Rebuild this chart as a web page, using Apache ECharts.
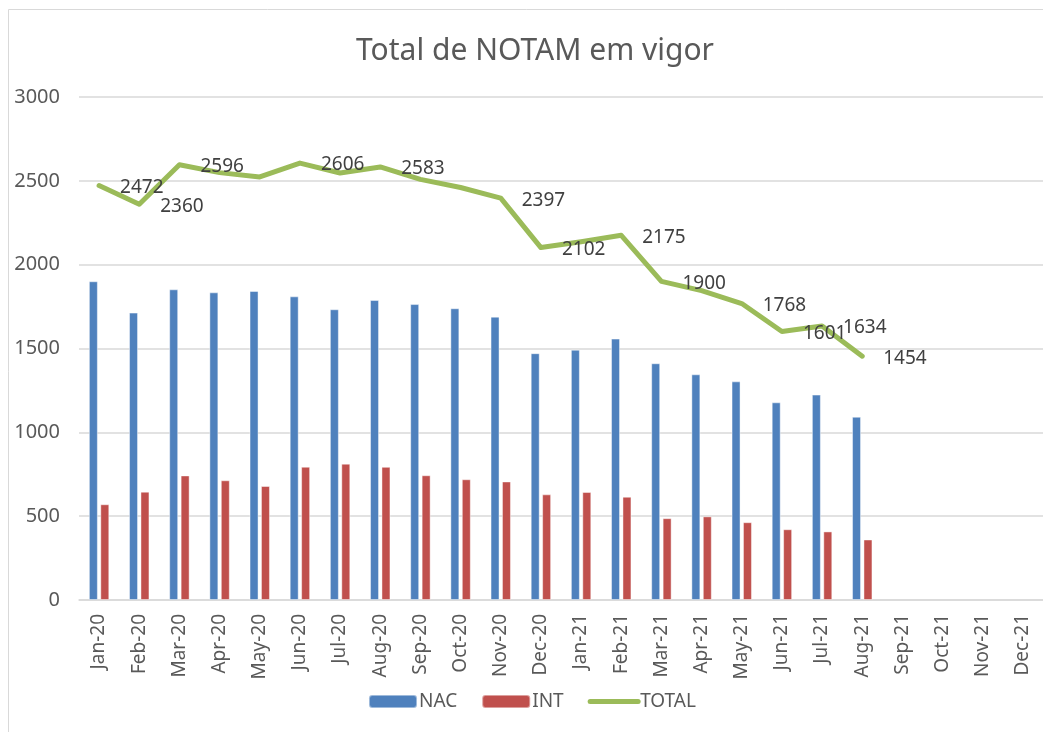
<!DOCTYPE html>
<html>
<head>
<meta charset="utf-8">
<title>Total de NOTAM em vigor</title>
<script src="https://cdn.jsdelivr.net/npm/echarts@6/dist/echarts.min.js"></script>
<style>
  html, body { margin: 0; padding: 0; background: #fff; }
  #main { width: 1043px; height: 732px; }
</style>
</head>
<body>
<div id="main"></div>
<script>
// meses (eixo x)
var months = ['Jan-20', 'Feb-20', 'Mar-20', 'Apr-20', 'May-20', 'Jun-20', 'Jul-20', 'Aug-20',
  'Sep-20', 'Oct-20', 'Nov-20', 'Dec-20', 'Jan-21', 'Feb-21', 'Mar-21', 'Apr-21', 'May-21',
  'Jun-21', 'Jul-21', 'Aug-21', 'Sep-21', 'Oct-21', 'Nov-21', 'Dec-21'];
// NOTAM nacionais
var nac = [1901, 1714, 1853, 1835, 1843, 1811, 1734, 1789, 1765, 1740, 1690, 1472,
  1493, 1559, 1412, 1346, 1304, 1179, 1225, 1093];
// NOTAM internacionais
var int = [571, 646, 743, 714, 680, 795, 813, 794, 744, 720, 707, 630,
  644, 616, 488, 499, 464, 422, 409, 361];
// total
var total = [2472, 2360, 2596, 2549, 2523, 2606, 2547, 2583, 2509, 2460, 2397, 2102,
  2137, 2175, 1900, 1845, 1768, 1601, 1634, 1454];
// pontos do total que têm rótulo
var labelled = [0, 1, 2, 5, 7, 10, 11, 13, 14, 16, 17, 18, 19];
var yTicks = [0, 500, 1000, 1500, 2000, 2500, 3000];

var font = 'Noto Sans';

var totalData = total.map(function (v, i) {
  return { value: v, label: { show: labelled.indexOf(i) >= 0 } };
});

var chart = echarts.init(document.getElementById('main'));
var option = {
  animation: false,
  textStyle: { fontFamily: font },
  title: {
    text: 'Total de NOTAM em vigor',
    left: 530,
    textAlign: 'center',
    top: 31,
    textStyle: { fontFamily: font, fontSize: 30, fontWeight: 'normal', color: '#595959' }
  },
  graphic: [{
    type: 'rect',
    silent: true,
    shape: { x: 8.5, y: 9.5, width: 1200, height: 900 },
    style: { fill: 'none', stroke: '#d9d9d9', lineWidth: 1 }
  }],
  legend: {
    left: 363,
    top: 687,
    itemWidth: 48,
    itemHeight: 13,
    itemGap: 24,
    textStyle: { fontFamily: font, fontSize: 19, color: '#595959', padding: [0, 0, 0, -3] },
    data: ['NAC', 'INT', {
      name: 'TOTAL',
      itemStyle: { opacity: 0 },
      lineStyle: { width: 5, cap: 'round' }
    }]
  },
  grid: { left: 79, right: -4, top: 97, bottom: 132 },
  xAxis: {
    type: 'category',
    data: months,
    axisLine: { lineStyle: { color: '#d9d9d9', width: 1.5 } },
    axisTick: { length: 6, lineStyle: { color: '#d9d9d9', width: 1.5 } },
    axisLabel: { rotate: 90, interval: 0, margin: 14, fontFamily: font, fontSize: 19, color: '#595959' }
  },
  yAxis: {
    type: 'value',
    min: yTicks[0],
    max: yTicks[yTicks.length - 1],
    interval: 500,
    axisLine: { show: false },
    axisTick: { show: false },
    axisLabel: {
      margin: 19, fontFamily: font, fontSize: 20, color: '#595959',
      formatter: function (v) { return String(v); }
    },
    splitLine: { lineStyle: { color: '#d9d9d9', width: 1.5 } }
  },
  series: [
    {
      name: 'NAC',
      type: 'bar',
      data: nac,
      barWidth: 9,
      barGap: '27%',
      itemStyle: { color: '#4F81BD', borderColor: 'rgba(255,255,255,0.45)', borderWidth: 1 }
    },
    {
      name: 'INT',
      type: 'bar',
      data: int,
      barWidth: 9,
      itemStyle: { color: '#C0504D', borderColor: 'rgba(255,255,255,0.45)', borderWidth: 1 }
    },
    {
      name: 'TOTAL',
      type: 'line',
      data: totalData,
      symbol: 'circle',
      symbolSize: 0,
      showAllSymbol: true,
      lineStyle: { color: '#9BBB59', width: 5, cap: 'round', join: 'round' },
      itemStyle: { color: '#9BBB59' },
      label: {
        position: 'right',
        distance: 21,
        offset: [0, 2],
        fontFamily: font,
        fontSize: 19,
        color: '#404040'
      }
    }
  ]
};
chart.setOption(option);
</script>
</body>
</html>
